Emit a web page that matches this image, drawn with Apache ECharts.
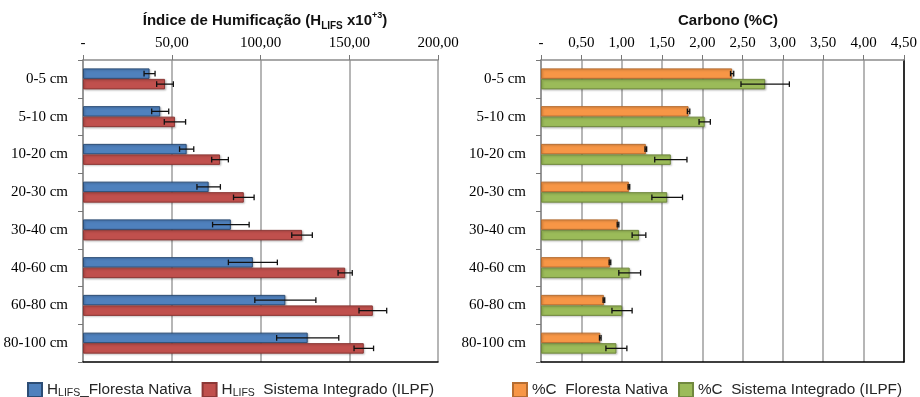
<!DOCTYPE html>
<html>
<head>
<meta charset="utf-8">
<script src="https://cdn.jsdelivr.net/npm/echarts@6/dist/echarts.min.js"></script>
<style>
  html, body { margin: 0; padding: 0; background: #fff; }
  #chart { width: 920px; height: 397px; }
</style>
</head>
<body>
<div id="chart"></div>
<script>
// Soil depth layers
const categories = ['0-5 cm', '5-10 cm', '10-20 cm', '20-30 cm', '30-40 cm', '40-60 cm', '60-80 cm', '80-100 cm'];

// Humification index (HLIFS x10^3), mean and standard deviation
const hlifsNativa = [37.5, 43.5, 58.4, 70.8, 83.3, 95.7, 114.0, 126.6];
const hlifsNativaErr = [3.1, 4.8, 4.0, 6.6, 10.3, 13.8, 17.2, 17.5];
const hlifsIlpf = [46.2, 51.8, 77.2, 90.6, 123.4, 147.7, 163.3, 158.2];
const hlifsIlpfErr = [4.7, 6.0, 4.7, 5.8, 5.8, 4.0, 7.8, 5.5];

// Carbon content (%C), mean and standard deviation
const carbonoNativa = [2.37, 1.83, 1.30, 1.09, 0.955, 0.855, 0.78, 0.735];
const carbonoNativaErr = [0.02, 0.015, 0.01, 0.01, 0.01, 0.01, 0.01, 0.01];
const carbonoIlpf = [2.78, 2.03, 1.61, 1.565, 1.215, 1.10, 1.005, 0.935];
const carbonoIlpfErr = [0.30, 0.07, 0.20, 0.19, 0.085, 0.135, 0.125, 0.13];

// Axis tick labels
const hlifsTicks = ['-', '50,00', '100,00', '150,00', '200,00'];
const carbonoTicks = ['-', '0,50', '1,00', '1,50', '2,00', '2,50', '3,00', '3,50', '4,00', '4,50'];

// Series names
const nameHN = 'HLIFS_Floresta Nativa';
const nameHI = 'HLIFS  Sistema Integrado (ILPF)';
const nameCN = '%C  Floresta Nativa';
const nameCI = '%C  Sistema Integrado (ILPF)';

const BAR_W = 10.5;
const serif = '"Liberation Serif", "Times New Roman", serif';
const sans = '"Liberation Sans", Arial, sans-serif';

function errData(vals, errs) {
  return vals.map((v, i) => [v - errs[i], v + errs[i], i]);
}

function errRender(offset) {
  return function (params, api) {
    const i = api.value(2);
    const lo = api.coord([api.value(0), i]);
    const hi = api.coord([api.value(1), i]);
    const y = lo[1] + offset;
    const cap = 2.8;
    const st = { stroke: '#111', lineWidth: 1.3 };
    return {
      type: 'group',
      children: [
        { type: 'line', shape: { x1: lo[0], y1: y, x2: hi[0], y2: y }, style: st },
        { type: 'line', shape: { x1: lo[0], y1: y - cap, x2: lo[0], y2: y + cap }, style: st },
        { type: 'line', shape: { x1: hi[0], y1: y - cap, x2: hi[0], y2: y + cap }, style: st }
      ]
    };
  };
}

function barSeries(name, data, color, border, xi, yi) {
  return {
    name: name, type: 'bar', xAxisIndex: xi, yAxisIndex: yi,
    data: data, barWidth: BAR_W, barGap: '0%',
    itemStyle: {
      color: color, borderColor: border, borderWidth: 1,
      shadowColor: 'rgba(0,0,0,0.22)', shadowBlur: 2, shadowOffsetX: 1, shadowOffsetY: 1
    },
    emphasis: { disabled: true }, animation: false
  };
}

function errSeries(vals, errs, offset, xi, yi) {
  return {
    type: 'custom', xAxisIndex: xi, yAxisIndex: yi, z: 5,
    data: errData(vals, errs),
    encode: { x: [0, 1], y: 2 },
    renderItem: errRender(offset), animation: false, silent: true
  };
}

function topAxis(grid, max, interval, ticks) {
  return {
    type: 'value', gridIndex: grid, position: 'top', min: 0, max: max, interval: interval,
    axisLine: { show: true, onZero: false, lineStyle: { color: '#8c8c8c', width: 1.5 } },
    axisTick: { show: true, length: 5, lineStyle: { color: '#777', width: 1 } },
    axisLabel: {
      margin: 9, color: '#000', fontFamily: serif, fontSize: 15,
      formatter: function (v) { return ticks[Math.round(v / interval)]; }
    },
    splitLine: { show: true, lineStyle: { color: '#9e9e9e', width: 1.5 } }
  };
}

function bottomBorder(grid, max) {
  return {
    type: 'value', gridIndex: grid, position: 'bottom', min: 0, max: max,
    axisLine: { show: true, onZero: false, lineStyle: { color: '#000', width: 1.5 } },
    axisTick: { show: false }, axisLabel: { show: false }, splitLine: { show: false }
  };
}

function catAxis(grid) {
  return {
    type: 'category', gridIndex: grid, data: categories, inverse: true, position: 'left',
    axisLine: { show: true, onZero: false, lineStyle: { color: '#8c8c8c', width: 1.5 } },
    axisTick: { show: true, length: 5, lineStyle: { color: '#777' } },
    axisLabel: { margin: 15, color: '#000', fontFamily: serif, fontSize: 15 },
    splitLine: { show: false }
  };
}

const legendRich = {
  m: { fontFamily: sans, fontSize: 15.3, color: '#262626', lineHeight: 18 },
  s: { fontFamily: sans, fontSize: 10.5, color: '#262626', lineHeight: 12, verticalAlign: 'bottom' }
};

function legendFmt(name) {
  if (name.indexOf('HLIFS') === 0) {
    return '{m|H}{s|LIFS}{m|' + name.slice(5) + '}';
  }
  return '{m|' + name + '}';
}

const titleRich = {
  a: { fontFamily: sans, fontWeight: 'bold', fontSize: 15, color: '#111', lineHeight: 20 },
  sub: { fontFamily: sans, fontWeight: 'bold', fontSize: 10, color: '#111', lineHeight: 13, verticalAlign: 'bottom' },
  sup: { fontFamily: sans, fontWeight: 'bold', fontSize: 9, color: '#111', lineHeight: 12, verticalAlign: 'top' }
};

const chart = echarts.init(document.getElementById('chart'), null, { renderer: 'canvas' });

chart.setOption({
  animation: false,
  backgroundColor: '#fff',
  title: [
    {
      text: '{a|Índice de Humificação (H}{sub|LIFS}{a| x10}{sup|+3}{a|)}',
      left: 260, top: 6, textAlign: 'center',
      textStyle: { rich: titleRich }
    },
    {
      text: 'Carbono (%C)',
      left: 723, top: 8, textAlign: 'center',
      textStyle: { fontFamily: sans, fontWeight: 'bold', fontSize: 15, color: '#111' }
    }
  ],
  legend: [
    {
      data: [nameHN, nameHI], left: 27, top: 382, padding: 0, icon: 'rect',
      itemWidth: 14, itemHeight: 14, itemGap: 10,
      formatter: legendFmt, textStyle: { rich: legendRich },
      selectedMode: false
    },
    {
      data: [nameCN, nameCI], left: 512, top: 382, padding: 0, icon: 'rect',
      itemWidth: 14, itemHeight: 14, itemGap: 10,
      formatter: legendFmt, textStyle: { rich: legendRich },
      selectedMode: false
    }
  ],
  grid: [
    { left: 83, top: 60, width: 355, height: 302 },
    { left: 541, top: 60, width: 364, height: 302 }
  ],
  xAxis: [
    topAxis(0, 200, 50, hlifsTicks),
    bottomBorder(0, 200),
    topAxis(1, 4.5, 0.5, carbonoTicks),
    bottomBorder(1, 4.5)
  ],
  yAxis: [
    catAxis(0),
    catAxis(1),
    {
      type: 'category', gridIndex: 1, data: categories, inverse: true, position: 'right',
      axisLine: { show: true, onZero: false, lineStyle: { color: '#000', width: 1.5 } },
      axisTick: { show: false }, axisLabel: { show: false }, splitLine: { show: false }
    }
  ],
  series: [
    barSeries(nameHN, hlifsNativa, '#4F81BD', '#2c4d75', 0, 0),
    barSeries(nameHI, hlifsIlpf, '#C0504D', '#8c3836', 0, 0),
    errSeries(hlifsNativa, hlifsNativaErr, -BAR_W / 2, 0, 0),
    errSeries(hlifsIlpf, hlifsIlpfErr, BAR_W / 2, 0, 0),
    barSeries(nameCN, carbonoNativa, '#F79646', '#b66d31', 2, 1),
    barSeries(nameCI, carbonoIlpf, '#9BBB59', '#71893f', 2, 1),
    errSeries(carbonoNativa, carbonoNativaErr, -BAR_W / 2, 2, 1),
    errSeries(carbonoIlpf, carbonoIlpfErr, BAR_W / 2, 2, 1)
  ]
});
</script>
</body>
</html>
